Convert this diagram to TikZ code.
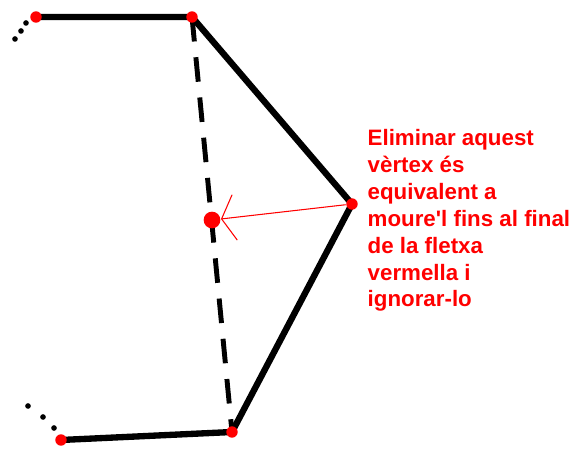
\documentclass[tikz,border=0pt]{standalone}
\usepackage{fontspec}
\setmainfont{Liberation Sans}
\usepackage{xcolor}
\usetikzlibrary{arrows.meta,positioning,calc}
\definecolor{pure red}{RGB}{255,0,0}

\begin{document}
\begin{tikzpicture}[x=0.02cm,y=-0.02cm,
  rvertex/.style={circle,fill=pure red,inner sep=0pt,minimum size=6.5pt},
  blobvertex/.style={circle,fill=pure red,inner sep=0pt,minimum size=9.5pt},
  ellipsisdot/.style={circle,fill=black,inner sep=0pt,minimum size=3.2pt},
  edge/.style={line width=3.6pt,line join=round},
  hidden/.style={line width=2.8pt,dash pattern=on 14pt off 9pt},
  every path/.style={line width=.8pt}]
\useasboundingbox (0,0) rectangle (582,449);
\coordinate (v1) at (36,17);
\coordinate (v2) at (192,17);
\coordinate (v3) at (352,204);
\coordinate (v4) at (232,432);
\coordinate (v5) at (61,440);
\coordinate (w) at (212,220);
\draw[hidden] (v2)--(v4);
\draw[edge] (v1)--(v2)--(v3)--(v4)--(v5);
\node[ellipsisdot] (a1) at (15,39) {};
\node[ellipsisdot] (a2) at (21,31) {};
\node[ellipsisdot] (a3) at (26,23) {};
\node[ellipsisdot] (b1) at (28,406) {};
\node[ellipsisdot] (b2) at (43,417) {};
\node[ellipsisdot] (b3) at (54,428) {};
\node[rvertex] (p1) at (v1) {};
\node[rvertex] (p2) at (v2) {};
\node[rvertex] (p3) at (v3) {};
\node[rvertex] (p4) at (v4) {};
\node[rvertex] (p5) at (v5) {};
\node[blobvertex] (q) at (w) {};
\draw[pure red,line width=.6pt,-{Straight Barb[length=7.5pt,width=26pt,line width=.6pt]}] (p3)--(q);
\node[pure red,anchor=base west,align=left,inner sep=0pt,
  font=\fontsize{12.7}{15.3}\selectfont\bfseries] (txt) at (367,307)
  {Eliminar aquest\\vèrtex és\\equivalent a\\moure\textquotesingle l fins al final\\de la fletxa\\vermella i\\ignorar-lo};
\end{tikzpicture}
\end{document}
